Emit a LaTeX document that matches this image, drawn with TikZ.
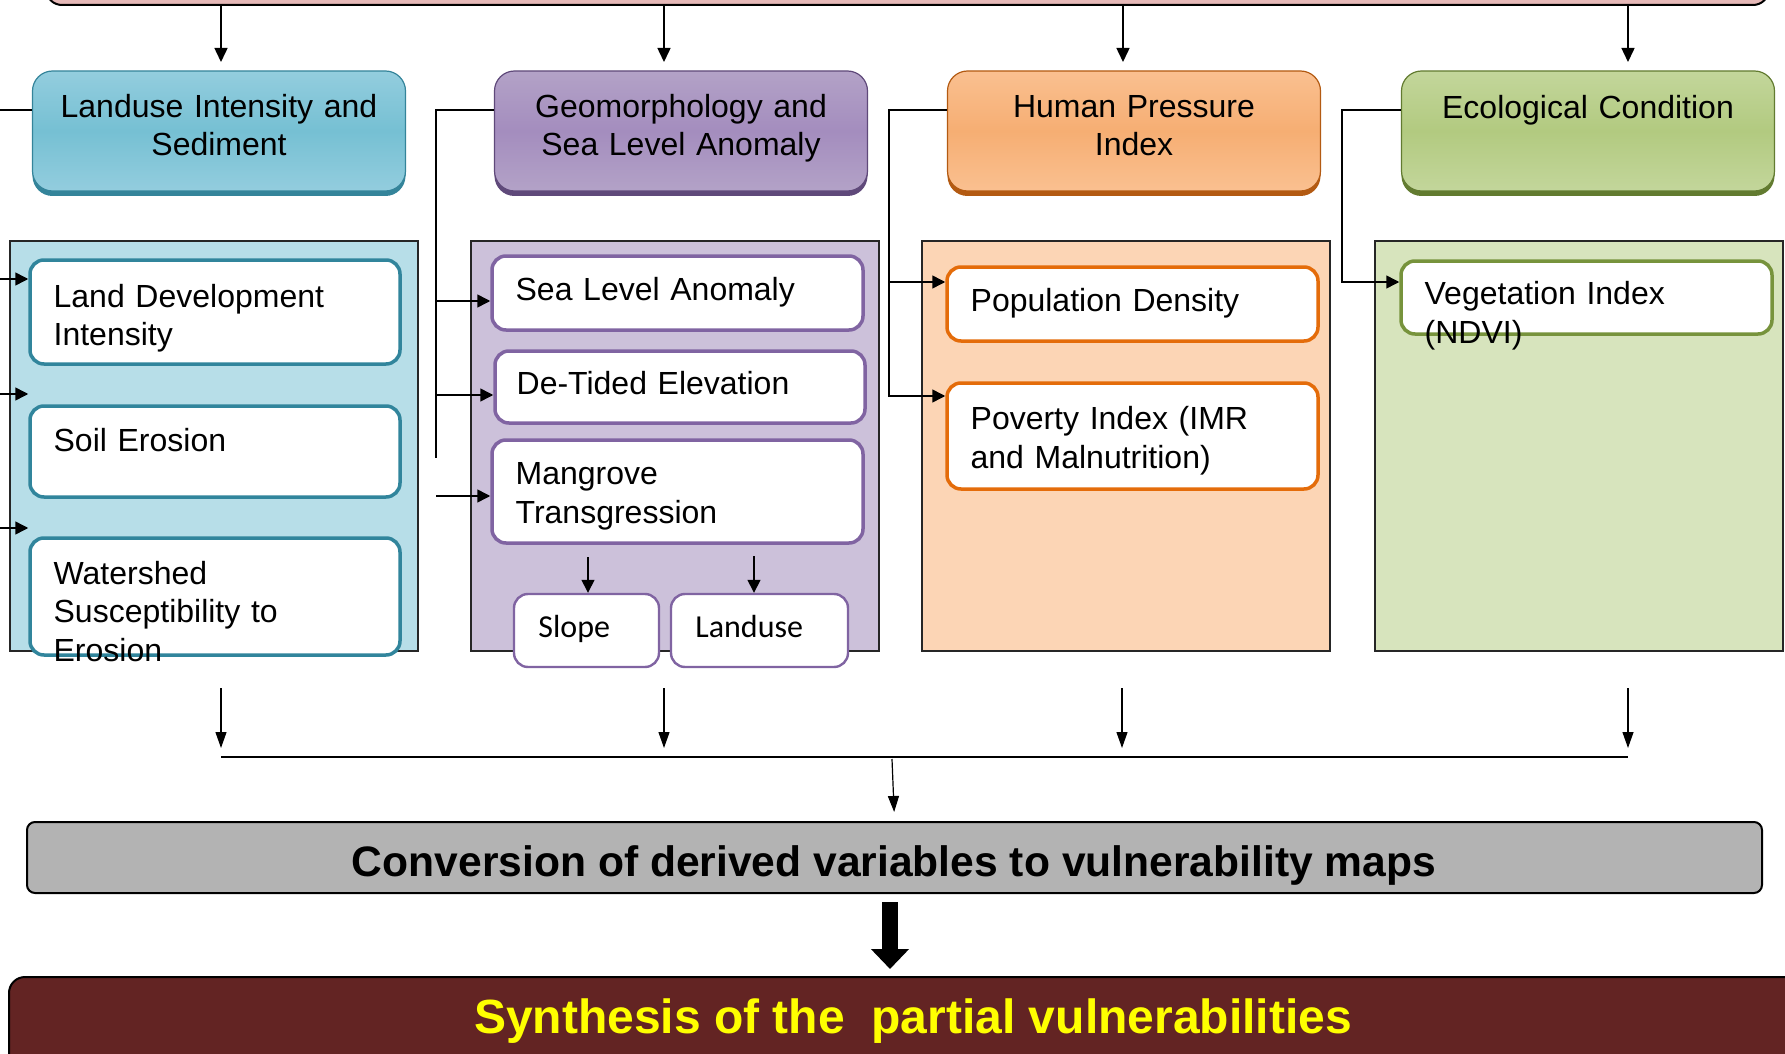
\documentclass[tikz,border=0pt]{standalone}
\usepackage{fontspec}
\setmainfont{Liberation Sans}
\newfontfamily\calibrilike{Carlito}
\usetikzlibrary{arrows.meta,calc,shadows}

\definecolor{pinkbar}{HTML}{E6B9B8}
\definecolor{bluetop}{HTML}{93CDDE}
\definecolor{bluemid}{HTML}{76C0D3}
\definecolor{bluedark}{HTML}{34849A}
\definecolor{bluepanel}{HTML}{B7DEE8}
\definecolor{blueline}{HTML}{31859C}
\definecolor{purtop}{HTML}{B3A2C7}
\definecolor{purmid}{HTML}{A48DBE}
\definecolor{purdark}{HTML}{5F497A}
\definecolor{purpanel}{HTML}{CCC1DA}
\definecolor{purline}{HTML}{8064A2}
\definecolor{orgtop}{HTML}{FAC090}
\definecolor{orgmid}{HTML}{F6AE73}
\definecolor{orgdark}{HTML}{B35A12}
\definecolor{orgpanel}{HTML}{FCD5B5}
\definecolor{orgline}{HTML}{E46C0A}
\definecolor{grntop}{HTML}{C3D69B}
\definecolor{grnmid}{HTML}{B2CA80}
\definecolor{grndark}{HTML}{627B30}
\definecolor{grnpanel}{HTML}{D7E4BD}
\definecolor{grnline}{HTML}{77933C}
\definecolor{convgray}{HTML}{B3B3B3}
\definecolor{synthred}{HTML}{632423}
\definecolor{synthtext}{HTML}{FFFF00}

\tikzset{
  wire/.style={line width=0.75pt, draw=black},
  tarr/.style={wire, -{Triangle[length=7pt,width=6.5pt]}},
  sarr/.style={wire, -{Triangle[length=6.5pt,width=6.5pt]}},
  barr/.style={line width=0.6pt, draw=black, -{Triangle[length=8pt,width=5.5pt]}},
  hdr/.style n args={3}{rectangle, rounded corners=10pt,
    minimum width=186.5pt, minimum height=60pt, inner sep=0pt,
    top color=#1, bottom color=#1, middle color=#2,
    draw=#3, line width=0.6pt,
    general shadow={fill=#3, shadow yshift=-2.5pt}},
  htxt/.style={anchor=base, inner sep=0pt, text width=184pt, align=center,
    font=\fontsize{16}{19.3}\selectfont},
  panel/.style={rectangle, draw=black!85, line width=1pt, fill=#1,
    minimum width=204pt, minimum height=205pt, inner sep=0pt},
  item/.style={rectangle, rounded corners=7pt, draw=#1, line width=1.75pt,
    fill=white, inner sep=0pt},
  smallitem/.style={rectangle, rounded corners=7pt, draw=#1, line width=1.2pt,
    fill=white, inner sep=0pt, minimum height=36.5pt},
  itxt/.style={anchor=base west, inner sep=0pt, text width=170pt, align=left,
    font=\fontsize{16}{19.2}\selectfont},
  stxt/.style={anchor=base west, inner sep=0pt, font=\calibrilike\fontsize{16}{19}\selectfont},
}

\begin{document}
\begin{tikzpicture}[x=0.5pt,y=-0.5pt]
\useasboundingbox (0,0) rectangle (1785,1054);
\clip (0,0) rectangle (1785,1054);

% source bar along the top edge
\node[rectangle, rounded corners=8pt, draw, line width=1pt, fill=pinkbar,
      minimum width=861.5pt, minimum height=40pt] (pink) at (907.5,-35) {};

% column headers
\node[hdr={bluetop}{bluemid}{bluedark}] (h1) at (219,131) {};
\node[hdr={purtop}{purmid}{purdark}]   (h2) at (681,131) {};
\node[hdr={orgtop}{orgmid}{orgdark}]   (h3) at (1134,131) {};
\node[hdr={grntop}{grnmid}{grndark}]   (h4) at (1588,131) {};

\node[htxt] (h1t) at ($(h1.north)+(0,47)$) {Landuse Intensity and\\Sediment};
\node[htxt] (h2t) at ($(h2.north)+(0,47)$) {Geomorphology and\\Sea Level Anomaly};
\node[htxt] (h3t) at ($(h3.north)+(0,47)$) {Human Pressure\\Index};
\node[htxt] (h4t) at ($(h4.north)+(0,48)$) {Ecological Condition};

% column panels
\node[panel=bluepanel] (p1) at (213.5,446) {};
\node[panel=purpanel]  (p2) at (674.5,446) {};
\node[panel=orgpanel]  (p3) at (1126,446) {};
\node[panel=grnpanel]  (p4) at (1579,446) {};

% variables: landuse intensity and sediment
\node[item=blueline, minimum width=185pt, minimum height=52pt]   (ldi) at (215,312) {};
\node[item=blueline, minimum width=185pt, minimum height=45.5pt] (se)  at (215,451.5) {};
\node[item=blueline, minimum width=185pt, minimum height=58.5pt] (ws)  at (215,596.5) {};
\node[itxt] (ldit) at ($(ldi.north west)+(25,49)$) {Land Development\\Intensity};
\node[itxt] (set)  at ($(se.north west)+(25,47)$) {Soil Erosion};
\node[itxt] (wst)  at ($(ws.north west)+(25,48)$) {Watershed\\Susceptibility to\\Erosion};

% variables: geomorphology and sea level anomaly
\node[item=purline, minimum width=185.5pt, minimum height=37pt]   (sla) at (677.5,293) {};
\node[item=purline, minimum width=185pt,   minimum height=36pt]   (dte) at (680,387) {};
\node[item=purline, minimum width=185.5pt, minimum height=51.5pt] (mt)  at (677.5,491.5) {};
\node[itxt] (slat) at ($(sla.north west)+(25,46.5)$) {Sea Level Anomaly};
\node[itxt] (dtet) at ($(dte.north west)+(23,45.5)$) {De-Tided Elevation};
\node[itxt] (mtt)  at ($(mt.north west)+(25,46.5)$) {Mangrove\\Transgression};
\node[smallitem=purline, minimum width=72.5pt] (slope) at (586.5,630.5) {};
\node[smallitem=purline, minimum width=88.5pt] (landuse) at (759.5,630.5) {};
\node[stxt] (slopet) at (538,637) {Slope};
\node[stxt] (landuset) at (695,637) {Landuse};
\coordinate (sl0) at (588,557);
\coordinate (lu0) at (754,556);
\draw[sarr] (sl0) -- (sl0 |- slope.north);
\draw[sarr] (lu0) -- (lu0 |- landuse.north);

% variables: human pressure index
\node[item=orgline, minimum width=185.5pt, minimum height=37pt] (pd) at (1132.5,304) {};
\node[item=orgline, minimum width=185.5pt, minimum height=53pt] (pi) at (1132.5,436) {};
\node[itxt] (pdt) at ($(pd.north west)+(25,46.5)$) {Population Density};
\node[itxt] (pit) at ($(pi.north west)+(25,48.5)$) {Poverty Index (IMR\\and Malnutrition)};

% variables: ecological condition
\node[item=grnline, minimum width=185.5pt, minimum height=36.5pt] (vi) at (1586.5,297.5) {};
\node[itxt] (vit) at ($(vi.north west)+(25,45.5)$) {Vegetation Index\\(NDVI)};

% feeds from the source bar into the headers
\coordinate (t1) at (221,62);
\coordinate (t2) at (664,62);
\coordinate (t3) at (1123,62);
\coordinate (t4) at (1628,62);
\draw[tarr] (pink.south -| t1) -- (t1);
\draw[tarr] (pink.south -| t2) -- (t2);
\draw[tarr] (pink.south -| t3) -- (t3);
\draw[tarr] (pink.south -| t4) -- (t4);

% header to variable links, column 1
\coordinate (a0) at (0,110);
\coordinate (a1) at (0,279);
\coordinate (a2) at (0,394);
\coordinate (a3) at (0,528);
\draw[wire] (h1.west |- a0) -- (a0);
\draw[sarr] (a1) -- (ldi.west |- a1);
\draw[sarr] (a2) -- (se.west |- a2);
\draw[sarr] (a3) -- (ws.west |- a3);

% column 2
\coordinate (b0) at (436,110);
\coordinate (b1) at (436,458);
\coordinate (b2) at (436,301);
\coordinate (b3) at (436,395);
\coordinate (b4) at (436,496);
\draw[wire] (h2.west |- b0) -- (b0) -- (b1);
\draw[sarr] (b2) -- (sla.west |- b2);
\draw[sarr] (b3) -- (dte.west |- b3);
\draw[sarr] (b4) -- (mt.west |- b4);

% column 3
\coordinate (c0) at (889,110);
\coordinate (c1) at (889,396);
\coordinate (c2) at (889,282);
\draw[sarr] (h3.west |- c0) -- (c0) -- (c1) -- (pi.west |- c1);
\draw[sarr] (c2) -- (pd.west |- c2);

% column 4
\coordinate (d0) at (1342,110);
\coordinate (d1) at (1342,282);
\draw[sarr] (h4.west |- d0) -- (d0) -- (d1) -- (vi.west |- d1);

% collection of the four columns
\coordinate (u1) at (221,688);  \coordinate (v1) at (221,748);
\coordinate (u2) at (664,688);  \coordinate (v2) at (664,748);
\coordinate (u3) at (1122,688); \coordinate (v3) at (1122,748);
\coordinate (u4) at (1628,688); \coordinate (v4) at (1628,748);
\draw[barr] (u1) -- (v1);
\draw[barr] (u2) -- (v2);
\draw[barr] (u3) -- (v3);
\draw[barr] (u4) -- (v4);
\coordinate (busl) at (221,757);
\coordinate (busr) at (1628,757);
\draw[line width=1.3pt] (busl) -- (busr);
\coordinate (m0) at (892,759);

% conversion step
\node[rectangle, rounded corners=4pt, draw, line width=1pt, fill=convgray,
      minimum width=867.5pt, minimum height=35.5pt, inner sep=0pt] (conv) at (894.5,857.5) {};
\node[anchor=base, inner sep=0pt, font=\bfseries\fontsize{21.3}{25}\selectfont]
      (convt) at (894,876) {Conversion of derived variables to vulnerability maps};
\draw[barr, shorten >=4.5pt] (m0) -- (conv.north);

% synthesis
\node[rectangle, rounded corners=8pt, draw, line width=1pt, fill=synthred,
      minimum width=895.5pt, minimum height=51.5pt, inner sep=0pt] (syn) at (904.5,1028.5) {};
\node[anchor=base, inner sep=0pt, text=synthtext, font=\bfseries\fontsize{24}{28}\selectfont]
      (synt) at (913,1033) {Synthesis of the\ \ partial vulnerabilities};
\coordinate (k0) at (890,893);
\draw[line width=8pt, -{Triangle[length=10pt,width=18.5pt]},
      shorten <=4.5pt, shorten >=3.5pt] (k0) -- (k0 |- syn.north);
\end{tikzpicture}
\end{document}
